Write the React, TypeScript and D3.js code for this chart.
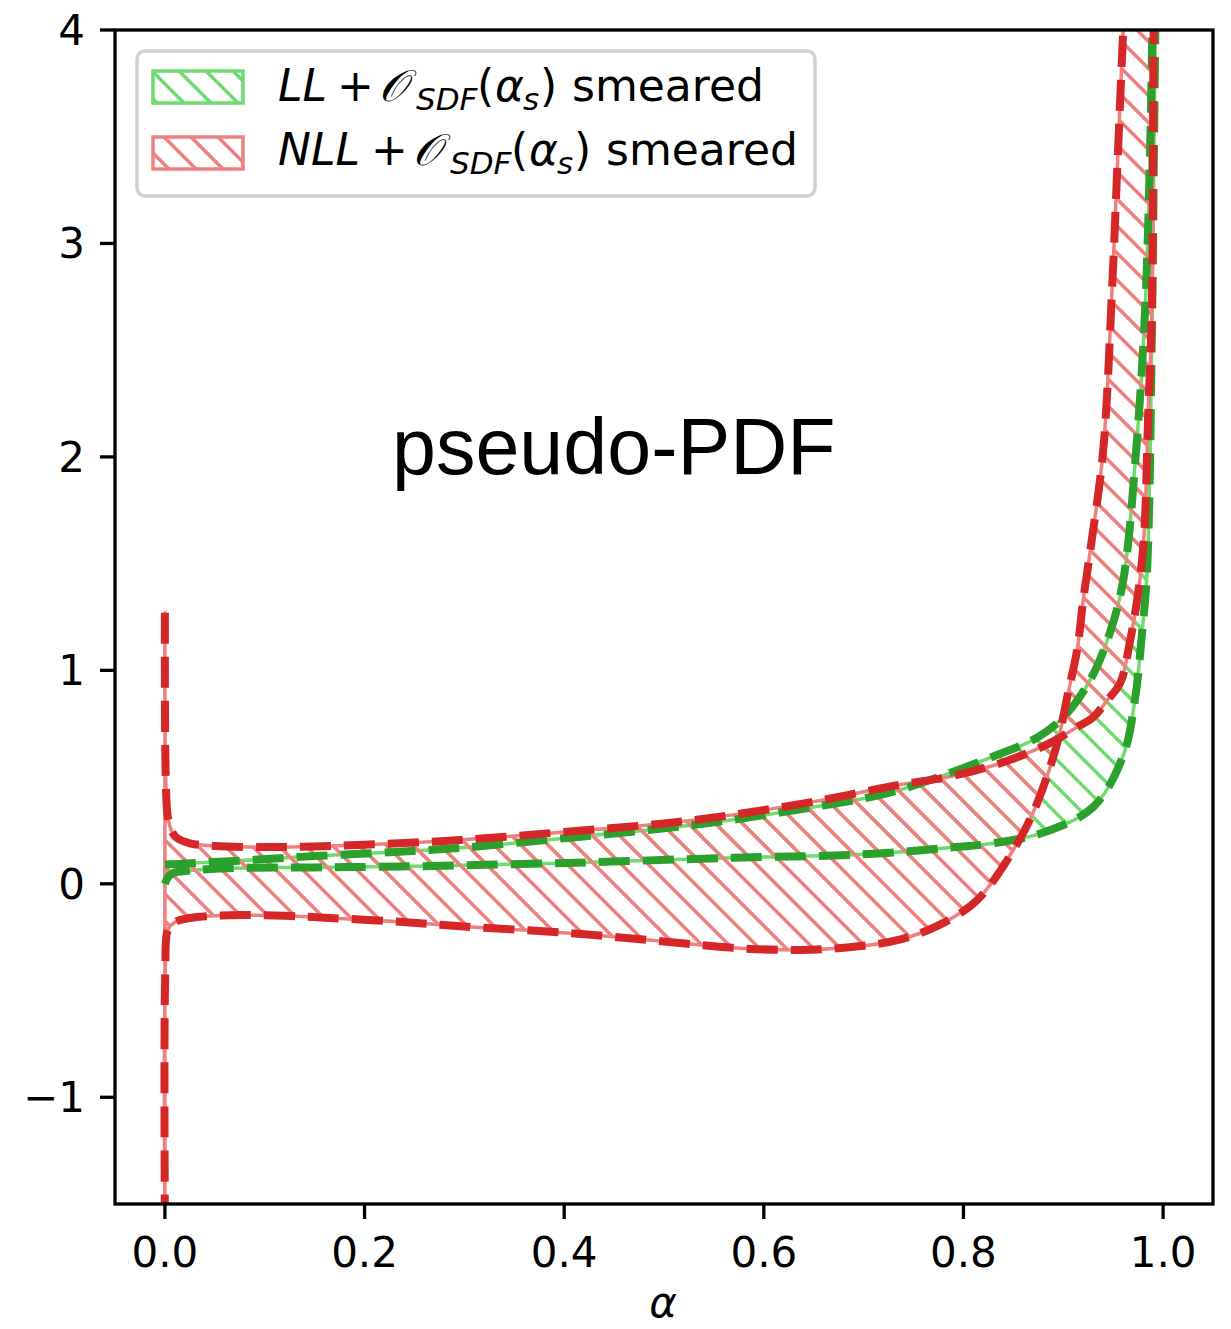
import React from "react";
import * as d3 from "d3";

const W = 1231;
const H = 1329;
const PLOT = { left: 115, right: 1213, top: 30, bottom: 1204 };

const xDomain = [-0.05, 1.05];
const yDomain = [-1.5, 4];
const xTicks = [0, 0.2, 0.4, 0.6, 0.8, 1.0];
const xTickLabels = ["0.0", "0.2", "0.4", "0.6", "0.8", "1.0"];
const yTicks = [-1, 0, 1, 2, 3, 4];
const yTickLabels = ["\u22121", "0", "1", "2", "3", "4"];

// LL + O_SDF(alpha_s) smeared : band upper edge
const llUpperX = [0, 0.03, 0.08, 0.15, 0.235, 0.3, 0.403, 0.5, 0.569, 0.65, 0.7, 0.736, 0.787, 0.837, 0.87, 0.9, 0.927, 0.947, 0.96, 0.973, 0.982, 0.987, 0.9895];
const llUpperY = [0.09, 0.097, 0.11, 0.13, 0.15, 0.17, 0.215, 0.26, 0.3, 0.36, 0.4, 0.44, 0.52, 0.61, 0.675, 0.78, 0.955, 1.18, 1.42, 2.03, 2.69, 3.44, 4.1];
// LL band lower edge
const llLowerX = [0, 0.003, 0.008, 0.025, 0.055, 0.15, 0.235, 0.403, 0.569, 0.7, 0.787, 0.83, 0.88, 0.93, 0.96, 0.972, 0.979, 0.984, 0.989, 0.991, 0.9925];
const llLowerY = [0, 0.03, 0.05, 0.062, 0.072, 0.077, 0.081, 0.098, 0.122, 0.138, 0.17, 0.19, 0.24, 0.36, 0.6, 0.87, 1.18, 1.47, 2.66, 3.5, 4.1];

// NLL + O_SDF(alpha_s) smeared : band upper edge
const nllUpperX = [0, 0.0008, 0.003, 0.007, 0.012, 0.025, 0.05, 0.1, 0.15, 0.2, 0.265, 0.32, 0.403, 0.5, 0.569, 0.65, 0.736, 0.787, 0.837, 0.887, 0.914, 0.93, 0.944, 0.957, 0.967, 0.974, 0.979, 0.982, 0.985, 0.9886, 0.9903, 0.9908];
const nllUpperY = [1.27, 0.5, 0.31, 0.245, 0.215, 0.19, 0.177, 0.172, 0.175, 0.183, 0.197, 0.213, 0.244, 0.283, 0.323, 0.385, 0.464, 0.503, 0.565, 0.66, 0.735, 0.78, 0.86, 0.94, 1.14, 1.33, 1.52, 1.72, 2.19, 2.66, 3.89, 4.1];
// NLL band lower edge
const nllLowerX = [0, 0.0004, 0.003, 0.01, 0.025, 0.065, 0.12, 0.165, 0.235, 0.3, 0.403, 0.5, 0.569, 0.636, 0.69, 0.736, 0.777, 0.814, 0.854, 0.874, 0.894, 0.904, 0.914, 0.92, 0.927, 0.94, 0.949, 0.954, 0.959, 0.961];
const nllLowerY = [-1.6, -0.4, -0.215, -0.18, -0.16, -0.147, -0.15, -0.16, -0.178, -0.2, -0.23, -0.27, -0.3, -0.31, -0.295, -0.262, -0.19, -0.075, 0.19, 0.38, 0.66, 0.876, 1.1, 1.33, 1.56, 2.03, 2.8, 3.34, 3.89, 4.1];

const GREEN_LIGHT = "#6fdc6f";
const GREEN_DARK = "#2ca02c";
const RED_LIGHT = "#f08080";
const RED_DARK = "#d62728";

const HATCH = 27;

function zip(xs: number[], ys: number[]): [number, number][] {
  return xs.map((x, i) => [x, ys[i]] as [number, number]);
}

function HatchPattern({ id, color }: { id: string; color: string }) {
  const S = HATCH;
  const d = `M0,0L${S},${S}M${-S},0L${S},${2 * S}M0,${-S}L${2 * S},${S}`;
  return (
    <pattern id={id} patternUnits="userSpaceOnUse" width={S} height={S}>
      <path d={d} stroke={color} strokeWidth={3.5} fill="none" />
    </pattern>
  );
}

export default function App() {
  const x = d3.scaleLinear().domain(xDomain).range([PLOT.left, PLOT.right]);
  const y = d3.scaleLinear().domain(yDomain).range([PLOT.bottom, PLOT.top]);

  const line = d3
    .line<[number, number]>()
    .x((d) => x(d[0]))
    .y((d) => y(d[1]))
    .curve(d3.curveCatmullRom.alpha(0.5));

  const llU = zip(llUpperX, llUpperY);
  const llL = zip(llLowerX, llLowerY);
  const nllU = zip(nllUpperX, nllUpperY);
  const nllL = zip(nllLowerX, nllLowerY);

  const band = (up: [number, number][], lo: [number, number][]) => {
    const a = line(up) || "";
    const b = (line(lo.slice().reverse()) || "").replace(/^M/, "L");
    return a + b + "Z";
  };

  const tickFont = "DejaVu Sans, sans-serif";
  const fs = 42;
  const lfs = 44;
  const sub = 31;

  const legendRow = (
    baseline: number,
    name: string,
    shift: number,
    patchY: number,
    pat: string,
    edge: string
  ) => (
    <g>
      <rect x={153} y={patchY} width={90} height={32} fill={`url(#${pat})`} stroke={edge} strokeWidth={3.5} />
      <text y={baseline} fontFamily={tickFont} fontSize={lfs} fill="#000">
        <tspan x={278} fontStyle="italic">{name}</tspan>
        <tspan x={337 + shift}>+</tspan>
        <tspan x={379 + shift} fontStyle="italic">{"\u{1D4AA}"}</tspan>
        <tspan x={416 + shift} fontStyle="italic" fontSize={sub} dy={9}>SDF</tspan>
        <tspan x={477 + shift} dy={-9}>(</tspan>
        <tspan x={495 + shift} fontStyle="italic">α</tspan>
        <tspan x={523 + shift} fontStyle="italic" fontSize={sub} dy={9}>s</tspan>
        <tspan x={540 + shift} dy={-9}>)</tspan>
        <tspan x={572 + shift}>smeared</tspan>
      </text>
    </g>
  );

  return (
    <svg
      width={W}
      height={H}
      viewBox={`0 0 ${W} ${H}`}
      style={{ position: "absolute", left: 0, top: 0, display: "block", background: "#fff" }}
    >
      <defs>
        <clipPath id="plotClip">
          <rect x={PLOT.left} y={PLOT.top} width={PLOT.right - PLOT.left} height={PLOT.bottom - PLOT.top} />
        </clipPath>
        <HatchPattern id="hatchG" color={GREEN_LIGHT} />
        <HatchPattern id="hatchR" color={RED_LIGHT} />
      </defs>
      <rect x={0} y={0} width={W} height={H} fill="#fff" />

      <g clipPath="url(#plotClip)">
        <path d={band(llU, llL)} fill="url(#hatchG)" stroke={GREEN_LIGHT} strokeWidth={3.5} strokeLinejoin="round" />
        <path d={band(nllU, nllL)} fill="url(#hatchR)" stroke={RED_LIGHT} strokeWidth={3.5} strokeLinejoin="round" />
        <path d={line(llU) || ""} fill="none" stroke={GREEN_DARK} strokeWidth={8} strokeDasharray="31,13" />
        <path d={line(llL) || ""} fill="none" stroke={GREEN_DARK} strokeWidth={8} strokeDasharray="31,13" />
        <path d={line(nllU) || ""} fill="none" stroke={RED_DARK} strokeWidth={8} strokeDasharray="31,13" />
        <path d={line(nllL) || ""} fill="none" stroke={RED_DARK} strokeWidth={8} strokeDasharray="31,13" />
      </g>

      <text x={392} y={474} fontFamily="Liberation Sans, Arial, sans-serif" fontSize={79} fill="#000">
        pseudo-PDF
      </text>

      {/* axes frame */}
      <rect
        x={PLOT.left}
        y={PLOT.top}
        width={PLOT.right - PLOT.left}
        height={PLOT.bottom - PLOT.top}
        fill="none"
        stroke="#000"
        strokeWidth={3.3}
      />

      {xTicks.map((t, i) => (
        <g key={`xt${i}`}>
          <line x1={x(t)} x2={x(t)} y1={PLOT.bottom} y2={PLOT.bottom + 15} stroke="#000" strokeWidth={3.3} />
          <text x={x(t)} y={1267} textAnchor="middle" fontFamily={tickFont} fontSize={fs} fill="#000">
            {xTickLabels[i]}
          </text>
        </g>
      ))}
      {yTicks.map((t, i) => (
        <g key={`yt${i}`}>
          <line x1={PLOT.left - 15} x2={PLOT.left} y1={y(t)} y2={y(t)} stroke="#000" strokeWidth={3.3} />
          <text x={85} y={y(t) + 15} textAnchor="end" fontFamily={tickFont} fontSize={fs} fill="#000">
            {yTickLabels[i]}
          </text>
        </g>
      ))}

      <text x={663} y={1317} textAnchor="middle" fontFamily={tickFont} fontStyle="italic" fontSize={fs} fill="#000">
        α
      </text>

      {/* legend */}
      <rect x={137} y={51} width={678} height={145} rx={8} ry={8} fill="#fff" fillOpacity={0.8} stroke="#d0d0d0" strokeWidth={3.5} />
      {legendRow(101, "LL", 0, 71, "hatchG", GREEN_LIGHT)}
      {legendRow(165, "NLL", 34, 137, "hatchR", RED_LIGHT)}
    </svg>
  );
}
